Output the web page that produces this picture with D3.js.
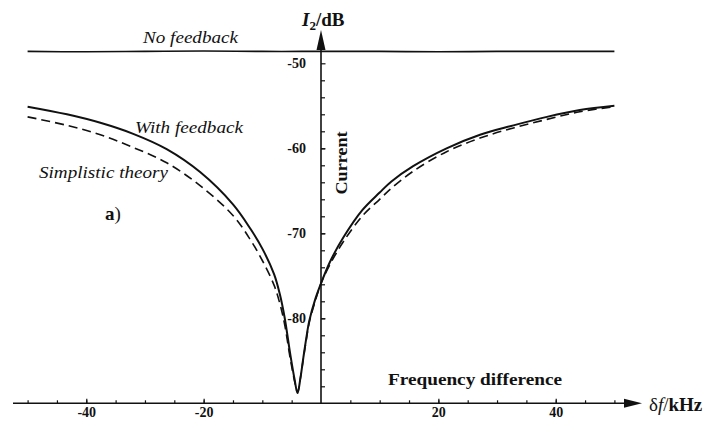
<!DOCTYPE html>
<meta charset="utf-8">
<head>
  <title>Current vs frequency difference</title>
</head>

<style>
body {
  margin: 0;
  background: #fff;
}
svg text {
  font-family: "Liberation Serif", "Times New Roman", serif;
  fill: #111;
}
</style>

<body>
  <div id="content"></div>

  <script src="https://cdnjs.cloudflare.com/ajax/libs/d3/7.8.5/d3.min.js"></script>

  <script>
// DATA
var noFbFreq = [-50, -40, -30, -20, -10, 0, 10, 20, 30, 40, 50];
var noFbI    = [-48.6, -48.65, -48.6, -48.55, -48.6, -48.6, -48.6, -48.65, -48.6, -48.6, -48.6];

var withFreq = [-50, -43.3, -37.6, -32, -26.3, -20.6, -15, -12, -10, -8, -7, -6.2, -5.2, -4.5, -4,
                -3.5, -3, -2.5, -2, -1, 0, 1.5, 3.8, 7, 10, 12, 15.7, 21.4, 27.1, 32.8, 38.5, 44.1, 50];
var withI    = [-55.1, -56.0, -57.0, -58.3, -60.1, -62.8, -66.6, -69.5, -71.8, -74.8, -77.2, -79.9, -84.4, -87.2, -88.8,
                -87.0, -84.6, -82.3, -80.3, -77.8, -75.9, -73.4, -70.5, -67.3, -65.2, -63.9, -62.1, -60.0, -58.4, -57.3, -56.3, -55.5, -55.0];

var simpleFreq = withFreq;
var simpleI  = [-56.3, -57.3, -58.4, -59.9, -61.7, -64.4, -67.9, -70.8, -73.2, -76.1, -78.3, -80.7, -84.9, -87.4, -88.7,
                -87.0, -84.7, -82.5, -80.5, -78.0, -75.9, -73.7, -71.0, -68.0, -66.0, -64.7, -62.7, -60.4, -58.8, -57.6, -56.6, -55.7, -55.1];

var xMinor = d3.range(-50, 51, 5).filter(function(d) { return d !== 0; });
var xLabels = [-40, -20, 20, 40];
var yMinor = d3.range(-88, -51, 2);
var yLabels = [-50, -60, -70, -80];

var width = 722, height = 421;

var x = d3.scaleLinear().domain([-50, 50]).range([27.6, 614.4]);
var y = d3.scaleLinear().domain([-90, -50]).range([403.3, 63.3]);

var svg = d3.select('#content').append('svg')
  .attr('width', width)
  .attr('height', height);

function pts(fs, vs) {
  return fs.map(function(f, i) { return [f, vs[i]]; });
}

var line = d3.line()
  .x(function(d) { return x(d[0]); })
  .y(function(d) { return y(d[1]); })
  .curve(d3.curveCatmullRom.alpha(0.5));

// curves
svg.append('path')
  .attr('d', line(pts(noFbFreq, noFbI)))
  .attr('fill', 'none').attr('stroke', '#111').attr('stroke-width', 1.6);

svg.append('path')
  .attr('d', line(pts(simpleFreq, simpleI)))
  .attr('fill', 'none').attr('stroke', '#111').attr('stroke-width', 1.6)
  .attr('stroke-dasharray', '9,5');

svg.append('path')
  .attr('d', line(pts(withFreq, withI)))
  .attr('fill', 'none').attr('stroke', '#111').attr('stroke-width', 2);

// axes
var x0 = x(0), yBase = y(-90);

var gx = svg.append('g').attr('transform', 'translate(0,' + yBase + ')');
gx.call(d3.axisBottom(x).tickValues(xMinor).tickSizeInner(-3).tickSizeOuter(0).tickFormat(''));
gx.select('.domain').remove();
var gxl = svg.append('g').attr('transform', 'translate(0,' + yBase + ')');
gxl.call(d3.axisBottom(x).tickValues(xLabels).tickSizeInner(-4.5).tickSizeOuter(0).tickPadding(4)
  .tickFormat(function(d) { return String(d); }));
gxl.select('.domain').remove();

var gy = svg.append('g').attr('transform', 'translate(' + x0 + ',0)');
gy.call(d3.axisLeft(y).tickValues(yMinor).tickSizeInner(-4).tickSizeOuter(0).tickFormat(''));
gy.select('.domain').remove();
var gyl = svg.append('g').attr('transform', 'translate(' + x0 + ',0)');
gyl.call(d3.axisLeft(y).tickValues(yLabels).tickSizeInner(-4.5).tickSizeOuter(0).tickPadding(15)
  .tickFormat(function(d) { return String(d); }));
gyl.select('.domain').remove();

svg.selectAll('.tick line').attr('stroke', '#111').attr('stroke-width', 1.2);
svg.selectAll('.tick text')
  .attr('fill', '#111')
  .style('font-family', '"Liberation Serif", serif')
  .style('font-weight', 'bold')
  .style('font-size', '14px');

// axis lines with arrows
svg.append('line')
  .attr('x1', 13).attr('x2', 630).attr('y1', yBase).attr('y2', yBase)
  .attr('stroke', '#111').attr('stroke-width', 1.6);
svg.append('path')
  .attr('d', 'M642,' + yBase + 'L624,' + (yBase - 4.5) + 'L624,' + (yBase + 4.5) + 'Z')
  .attr('fill', '#111');

svg.append('line')
  .attr('x1', x0).attr('x2', x0).attr('y1', yBase).attr('y2', 40)
  .attr('stroke', '#111').attr('stroke-width', 1.6);
svg.append('path')
  .attr('d', 'M' + x0 + ',30L' + (x0 - 4.5) + ',50L' + (x0 + 4.5) + ',50Z')
  .attr('fill', '#111');

// axis titles
var yt = svg.append('text').attr('x', 302).attr('y', 26).style('font-size', '19px').style('font-weight', 'bold');
yt.append('tspan').text('I').style('font-style', 'italic');
yt.append('tspan').text('2').attr('dy', 4).style('font-size', '13px');
yt.append('tspan').text('/dB').attr('dy', -4);

var xt = svg.append('text').attr('x', 649).attr('y', 411).style('font-size', '19px');
xt.append('tspan').text('\u03b4');
xt.append('tspan').text('f').style('font-style', 'italic');
xt.append('tspan').text('/');
xt.append('tspan').text('kHz').style('font-weight', 'bold');

svg.append('text')
  .attr('transform', 'translate(347,163) rotate(-90)')
  .attr('text-anchor', 'middle')
  .attr('textLength', 63).attr('lengthAdjust', 'spacingAndGlyphs')
  .style('font-size', '17px').style('font-weight', 'bold')
  .text('Current');

svg.append('text')
  .attr('x', 388).attr('y', 385)
  .attr('textLength', 174).attr('lengthAdjust', 'spacingAndGlyphs')
  .style('font-size', '17px').style('font-weight', 'bold')
  .text('Frequency difference');

// curve labels
svg.append('text')
  .attr('x', 143).attr('y', 43)
  .attr('textLength', 95).attr('lengthAdjust', 'spacingAndGlyphs')
  .style('font-size', '17px').style('font-style', 'italic')
  .text('No feedback');

svg.append('text')
  .attr('x', 135).attr('y', 133)
  .attr('textLength', 108).attr('lengthAdjust', 'spacingAndGlyphs')
  .style('font-size', '17px').style('font-style', 'italic')
  .text('With feedback');

svg.append('text')
  .attr('x', 39).attr('y', 178)
  .attr('textLength', 129).attr('lengthAdjust', 'spacingAndGlyphs')
  .style('font-size', '17px').style('font-style', 'italic')
  .text('Simplistic theory');

var pa = svg.append('text').attr('x', 105).attr('y', 220).style('font-size', '19px');
pa.append('tspan').text('a').style('font-weight', 'bold');
pa.append('tspan').text(')');
  </script>
</body>
</html>
